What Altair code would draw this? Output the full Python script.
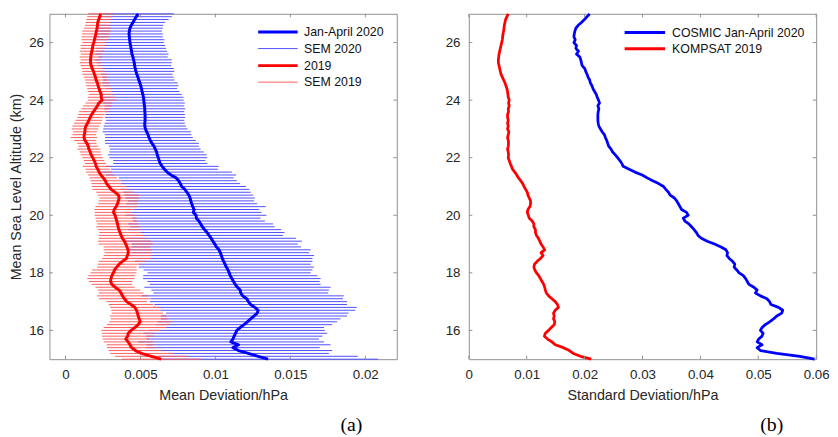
import altair as alt
import pandas as pd

# ---------------- data ----------------
altitude_km = [
    15.0, 15.1, 15.2, 15.3, 15.4, 15.5, 15.6, 15.7, 15.8, 15.9,
    16.0, 16.1, 16.2, 16.3, 16.4, 16.5, 16.6, 16.7, 16.8, 16.9,
    17.0, 17.1, 17.2, 17.3, 17.4, 17.5, 17.6, 17.7, 17.8, 17.9,
    18.0, 18.1, 18.2, 18.3, 18.4, 18.5, 18.6, 18.7, 18.8, 18.9,
    19.0, 19.1, 19.2, 19.3, 19.4, 19.5, 19.6, 19.7, 19.8, 19.9,
    20.0, 20.1, 20.2, 20.3, 20.4, 20.5, 20.6, 20.7, 20.8, 20.9,
    21.0, 21.1, 21.2, 21.3, 21.4, 21.5, 21.6, 21.7, 21.8, 21.9,
    22.0, 22.1, 22.2, 22.3, 22.4, 22.5, 22.6, 22.7, 22.8, 22.9,
    23.0, 23.1, 23.2, 23.3, 23.4, 23.5, 23.6, 23.7, 23.8, 23.9,
    24.0, 24.1, 24.2, 24.3, 24.4, 24.5, 24.6, 24.7, 24.8, 24.9,
    25.0, 25.1, 25.2, 25.3, 25.4, 25.5, 25.6, 25.7, 25.8, 25.9,
    26.0, 26.1, 26.2, 26.3, 26.4, 26.5, 26.6, 26.7, 26.8, 26.9,
    27.0,
]

mean_2020 = [
    0.01351, 0.01285, 0.01220, 0.01154, 0.01117, 0.01154, 0.01103, 0.01117, 0.01125, 0.01134,
    0.01143, 0.01165, 0.01191, 0.01213, 0.01235, 0.01257, 0.01279, 0.01285, 0.01263, 0.01235,
    0.01220, 0.01209, 0.01182, 0.01169, 0.01165, 0.01147, 0.01132, 0.01121, 0.01110, 0.01099,
    0.01092, 0.01084, 0.01073, 0.01064, 0.01055, 0.01046, 0.01040, 0.01033, 0.01024, 0.01007,
    0.00996, 0.00983, 0.00972, 0.00958, 0.00945, 0.00928, 0.00913, 0.00902, 0.00890, 0.00873,
    0.00871, 0.00853, 0.00858, 0.00849, 0.00842, 0.00836, 0.00831, 0.00823, 0.00810, 0.00796,
    0.00775, 0.00766, 0.00755, 0.00738, 0.00704, 0.00678, 0.00660, 0.00645, 0.00632, 0.00625,
    0.00619, 0.00612, 0.00608, 0.00599, 0.00590, 0.00577, 0.00566, 0.00557, 0.00551, 0.00542,
    0.00533, 0.00529, 0.00529, 0.00531, 0.00531, 0.00531, 0.00529, 0.00529, 0.00527, 0.00524,
    0.00522, 0.00520, 0.00516, 0.00511, 0.00507, 0.00502, 0.00496, 0.00489, 0.00483, 0.00476,
    0.00470, 0.00465, 0.00461, 0.00459, 0.00454, 0.00450, 0.00443, 0.00441, 0.00437, 0.00434,
    0.00430, 0.00428, 0.00426, 0.00424, 0.00426, 0.00430, 0.00439, 0.00450, 0.00461, 0.00472,
    0.00485,
]

sem_2020 = [
    0.00735, 0.00665, 0.00537, 0.00625, 0.00579, 0.00614, 0.00621, 0.00574, 0.00588, 0.00612,
    0.00587, 0.00559, 0.00588, 0.00599, 0.00599, 0.00621, 0.00609, 0.00647, 0.00680, 0.00643,
    0.00658, 0.00642, 0.00674, 0.00583, 0.00592, 0.00621, 0.00570, 0.00574, 0.00592, 0.00581,
    0.00544, 0.00563, 0.00585, 0.00572, 0.00592, 0.00601, 0.00618, 0.00592, 0.00612, 0.00564,
    0.00553, 0.00594, 0.00565, 0.00492, 0.00516, 0.00511, 0.00482, 0.00482, 0.00440, 0.00428,
    0.00469, 0.00454, 0.00434, 0.00487, 0.00437, 0.00421, 0.00432, 0.00429, 0.00425, 0.00430,
    0.00429, 0.00399, 0.00388, 0.00383, 0.00434, 0.00432, 0.00356, 0.00377, 0.00313, 0.00307,
    0.00326, 0.00329, 0.00315, 0.00303, 0.00300, 0.00313, 0.00303, 0.00292, 0.00289, 0.00294,
    0.00281, 0.00274, 0.00267, 0.00261, 0.00268, 0.00265, 0.00263, 0.00270, 0.00265, 0.00272,
    0.00266, 0.00267, 0.00260, 0.00249, 0.00237, 0.00251, 0.00252, 0.00237, 0.00239, 0.00239,
    0.00256, 0.00257, 0.00243, 0.00250, 0.00255, 0.00232, 0.00244, 0.00237, 0.00234, 0.00231,
    0.00226, 0.00232, 0.00223, 0.00225, 0.00217, 0.00219, 0.00213, 0.00215, 0.00226, 0.00237,
    0.00237,
]

mean_2019 = [
    0.00638, 0.00573, 0.00507, 0.00467, 0.00441, 0.00430, 0.00419, 0.00402, 0.00415, 0.00419,
    0.00437, 0.00463, 0.00485, 0.00498, 0.00492, 0.00485, 0.00480, 0.00474, 0.00463, 0.00437,
    0.00408, 0.00393, 0.00380, 0.00371, 0.00358, 0.00331, 0.00309, 0.00301, 0.00303, 0.00309,
    0.00320, 0.00327, 0.00342, 0.00358, 0.00380, 0.00406, 0.00413, 0.00419, 0.00417, 0.00410,
    0.00402, 0.00393, 0.00380, 0.00371, 0.00364, 0.00356, 0.00351, 0.00347, 0.00342, 0.00336,
    0.00331, 0.00320, 0.00325, 0.00338, 0.00347, 0.00353, 0.00358, 0.00353, 0.00331, 0.00305,
    0.00290, 0.00274, 0.00266, 0.00252, 0.00237, 0.00224, 0.00215, 0.00204, 0.00200, 0.00191,
    0.00182, 0.00171, 0.00165, 0.00156, 0.00152, 0.00143, 0.00130, 0.00123, 0.00125, 0.00130,
    0.00130, 0.00136, 0.00147, 0.00156, 0.00165, 0.00174, 0.00187, 0.00200, 0.00213, 0.00222,
    0.00245, 0.00238, 0.00239, 0.00230, 0.00224, 0.00217, 0.00213, 0.00204, 0.00200, 0.00193,
    0.00187, 0.00178, 0.00171, 0.00167, 0.00167, 0.00169, 0.00171, 0.00176, 0.00180, 0.00182,
    0.00189, 0.00193, 0.00198, 0.00202, 0.00206, 0.00211, 0.00213, 0.00215, 0.00222, 0.00228,
    0.00235,
]

sem_2019 = [
    0.00263, 0.00242, 0.00208, 0.00179, 0.00164, 0.00155, 0.00164, 0.00154, 0.00171, 0.00175,
    0.00198, 0.00208, 0.00208, 0.00206, 0.00190, 0.00188, 0.00171, 0.00169, 0.00164, 0.00149,
    0.00135, 0.00171, 0.00169, 0.00149, 0.00141, 0.00131, 0.00135, 0.00145, 0.00158, 0.00157,
    0.00153, 0.00149, 0.00131, 0.00141, 0.00158, 0.00162, 0.00158, 0.00158, 0.00162, 0.00155,
    0.00180, 0.00176, 0.00158, 0.00149, 0.00138, 0.00139, 0.00145, 0.00136, 0.00138, 0.00136,
    0.00136, 0.00125, 0.00132, 0.00138, 0.00130, 0.00131, 0.00132, 0.00137, 0.00126, 0.00125,
    0.00115, 0.00101, 0.00099, 0.00092, 0.00086, 0.00086, 0.00081, 0.00088, 0.00070, 0.00068,
    0.00070, 0.00070, 0.00070, 0.00077, 0.00066, 0.00064, 0.00072, 0.00088, 0.00079, 0.00079,
    0.00088, 0.00090, 0.00090, 0.00088, 0.00086, 0.00088, 0.00096, 0.00092, 0.00096, 0.00088,
    0.00094, 0.00088, 0.00083, 0.00079, 0.00079, 0.00079, 0.00079, 0.00075, 0.00077, 0.00081,
    0.00075, 0.00070, 0.00070, 0.00072, 0.00066, 0.00075, 0.00070, 0.00081, 0.00079, 0.00081,
    0.00077, 0.00086, 0.00090, 0.00090, 0.00094, 0.00088, 0.00083, 0.00081, 0.00083, 0.00083,
    0.00083,
]

std_cosmic_2020 = [
    0.05972, 0.05717, 0.05320, 0.05037, 0.04980, 0.05065, 0.04980, 0.05008, 0.05065, 0.05082,
    0.05037, 0.05065, 0.05122, 0.05195, 0.05263, 0.05320, 0.05405, 0.05422, 0.05349, 0.05218,
    0.05195, 0.05150, 0.05037, 0.04951, 0.04980, 0.04923, 0.04838, 0.04810, 0.04781, 0.04742,
    0.04668, 0.04628, 0.04583, 0.04594, 0.04555, 0.04498, 0.04458, 0.04469, 0.04441, 0.04356,
    0.04243, 0.04118, 0.04016, 0.03959, 0.03931, 0.03891, 0.03846, 0.03800, 0.03732, 0.03704,
    0.03789, 0.03760, 0.03675, 0.03647, 0.03619, 0.03590, 0.03551, 0.03477, 0.03448, 0.03403,
    0.03363, 0.03278, 0.03176, 0.03080, 0.02995, 0.02870, 0.02768, 0.02666, 0.02643, 0.02609,
    0.02569, 0.02530, 0.02484, 0.02456, 0.02416, 0.02399, 0.02382, 0.02359, 0.02342, 0.02303,
    0.02274, 0.02246, 0.02235, 0.02229, 0.02229, 0.02229, 0.02235, 0.02246, 0.02229, 0.02257,
    0.02240, 0.02218, 0.02201, 0.02172, 0.02144, 0.02127, 0.02099, 0.02087, 0.02059, 0.02042,
    0.02019, 0.02002, 0.01957, 0.01945, 0.01934, 0.01917, 0.01860, 0.01894, 0.01849, 0.01860,
    0.01815, 0.01838, 0.01815, 0.01821, 0.01832, 0.01849, 0.01889, 0.01945, 0.01997, 0.02042,
    0.02087,
]

std_kompsat_2019 = [
    0.02116, 0.01928, 0.01804, 0.01736, 0.01633, 0.01492, 0.01435, 0.01361, 0.01305, 0.01322,
    0.01378, 0.01424, 0.01475, 0.01486, 0.01463, 0.01474, 0.01463, 0.01492, 0.01548, 0.01531,
    0.01492, 0.01435, 0.01378, 0.01339, 0.01322, 0.01310, 0.01293, 0.01265, 0.01236, 0.01208,
    0.01168, 0.01140, 0.01123, 0.01134, 0.01180, 0.01236, 0.01282, 0.01248, 0.01310, 0.01282,
    0.01248, 0.01225, 0.01202, 0.01168, 0.01151, 0.01151, 0.01123, 0.01123, 0.01095, 0.01044,
    0.01027, 0.01010, 0.01021, 0.01055, 0.01066, 0.01066, 0.01044, 0.01021, 0.01010, 0.00981,
    0.00953, 0.00930, 0.00896, 0.00856, 0.00828, 0.00794, 0.00754, 0.00737, 0.00715, 0.00698,
    0.00681, 0.00686, 0.00681, 0.00669, 0.00681, 0.00686, 0.00681, 0.00669, 0.00681, 0.00692,
    0.00669, 0.00681, 0.00669, 0.00681, 0.00669, 0.00669, 0.00686, 0.00681, 0.00698, 0.00686,
    0.00698, 0.00681, 0.00675, 0.00669, 0.00658, 0.00641, 0.00624, 0.00601, 0.00579, 0.00556,
    0.00544, 0.00533, 0.00522, 0.00510, 0.00510, 0.00516, 0.00522, 0.00533, 0.00544, 0.00556,
    0.00567, 0.00579, 0.00584, 0.00590, 0.00601, 0.00607, 0.00613, 0.00624, 0.00635, 0.00658,
    0.00681,
]

a_series = ["Jan-April 2020", "SEM 2020", "2019", "SEM 2019"]
a_colors = ["#0000ff", "#4d4dff", "#ff0000", "#ff5c5c"]
a_widths = [3, 1, 3, 1]
b_series = ["COSMIC Jan-April 2020", "KOMPSAT 2019"]
b_colors = ["#0000ff", "#ff0000"]

a_x_ticks = [0, 0.005, 0.01, 0.015, 0.02]
b_x_ticks = [0, 0.01, 0.02, 0.03, 0.04, 0.05, 0.06]
y_ticks = [16, 18, 20, 22, 24, 26]
panel_labels = ["(a)", "(b)"]

# ---------------- tables ----------------
df_a = pd.concat([
    pd.DataFrame({"alt": altitude_km, "mean": mean_2020, "sem": sem_2020,
                  "series": "SEM 2020", "kind": "sem"}),
    pd.DataFrame({"alt": altitude_km, "mean": mean_2019, "sem": sem_2019,
                  "series": "SEM 2019", "kind": "sem"}),
    pd.DataFrame({"alt": altitude_km, "mean": mean_2020, "sem": sem_2020,
                  "series": "Jan-April 2020", "kind": "mean"}),
    pd.DataFrame({"alt": altitude_km, "mean": mean_2019, "sem": sem_2019,
                  "series": "2019", "kind": "mean"}),
], ignore_index=True)
df_a["lo"] = df_a["mean"] - df_a["sem"]
df_a["hi"] = df_a["mean"] + df_a["sem"]

df_b = pd.concat([
    pd.DataFrame({"alt": altitude_km, "std": std_cosmic_2020, "series": b_series[0]}),
    pd.DataFrame({"alt": altitude_km, "std": std_kompsat_2019, "series": b_series[1]}),
], ignore_index=True)

# ---------------- styling ----------------
FONT = "Liberation Sans"
GRAY = "#8f8f8f"
TXT = "#262626"
W, H = 352, 350
TK = 3.5
# legend line symbol: unit path scaled by sqrt(size)/2 = 5 px -> 40 px long line
LEG_PATH = "M-1,0H7"

a_xdom = [-0.00107, 0.0221]
b_xdom = [0, 0.06]
ydom = [15, 27]


def x_axis(ticks, fmt, title):
    return alt.Axis(values=ticks, format=fmt, title=title, ticks=False, domain=False,
                    grid=False, labelFont=FONT, labelFontSize=13.5, labelColor=TXT,
                    labelPadding=9, labelFlush=False, labelOverlap=False,
                    titleFont=FONT, titleFontSize=14.5, titleFontWeight="normal",
                    titleColor=TXT, titlePadding=7)


def y_axis(title, pad):
    kw = dict(values=y_ticks, format="d", ticks=False, domain=False, grid=False,
              labelFont=FONT, labelFontSize=13.5, labelColor=TXT, labelPadding=pad,
              labelFlush=False, labelOverlap=False)
    if title:
        kw.update(title=title, titleFont=FONT, titleFontSize=14.5,
                  titleFontWeight="normal", titleColor=TXT, titlePadding=5)
    else:
        kw.update(title=None)
    return alt.Axis(**kw)


def X(field, dom, ax):
    return alt.X(f"{field}:Q", scale=alt.Scale(domain=dom, nice=False, zero=False), axis=ax)


def Y(field, ax):
    return alt.Y(f"{field}:Q", scale=alt.Scale(domain=ydom, nice=False, zero=False), axis=ax)


def tick_layers(xticks, xdom, xax, yax):
    xt = alt.Chart(pd.DataFrame({"tick": xticks}))
    yt = alt.Chart(pd.DataFrame({"tick": y_ticks}))
    rule = dict(color=GRAY, strokeWidth=1)
    return [
        xt.mark_rule(**rule).encode(x=X("tick", xdom, xax), y=alt.value(H), y2=alt.value(H - TK)),
        xt.mark_rule(**rule).encode(x=X("tick", xdom, xax), y=alt.value(0), y2=alt.value(TK)),
        yt.mark_rule(**rule).encode(y=Y("tick", yax), x=alt.value(0), x2=alt.value(TK)),
        yt.mark_rule(**rule).encode(y=Y("tick", yax), x=alt.value(W), x2=alt.value(W - TK)),
    ]


# ---------------- panel (a) ----------------
ax_a_x = x_axis(a_x_ticks, ".3~f", "Mean Deviation/hPa")
ax_a_y = y_axis("Mean Sea Level Altitude (km)", 6)

legend_a = alt.Legend(orient="none", legendX=210, legendY=12, title=None,
                      symbolType=LEG_PATH, symbolSize=100, labelFont=FONT,
                      labelFontSize=12.5, labelColor="#111111", labelOffset=35,
                      rowPadding=4, padding=0)
color_a = alt.Color("series:N", scale=alt.Scale(type="ordinal", domain=a_series, range=a_colors),
                    legend=legend_a)
width_a = alt.StrokeWidth("series:N",
                          scale=alt.Scale(type="ordinal", domain=a_series, range=a_widths),
                          legend=legend_a)

base_a = alt.Chart(df_a)
bars_a = base_a.transform_filter(alt.datum.kind == "sem").mark_rule().encode(
    y=Y("alt", ax_a_y), x=X("lo", a_xdom, ax_a_x), x2="hi:Q",
    color=color_a, strokeWidth=width_a)
lines_a = base_a.transform_filter(alt.datum.kind == "mean").mark_line(strokeJoin="round").encode(
    y=Y("alt", ax_a_y), x=X("mean", a_xdom, ax_a_x), order="alt:Q",
    color=color_a, strokeWidth=width_a)
label_a = alt.Chart(pd.DataFrame({"t": [panel_labels[0]]})).mark_text(
    font="Liberation Serif", fontSize=20, color="black").encode(
    text="t:N", x=alt.value(306), y=alt.value(417))

panel_a = alt.layer(bars_a, lines_a, *tick_layers(a_x_ticks, a_xdom, ax_a_x, ax_a_y),
                    label_a).properties(width=W, height=H)

# ---------------- panel (b) ----------------
ax_b_x = x_axis(b_x_ticks, ".2~f", "Standard Deviation/hPa")
ax_b_y = y_axis(None, 9)
legend_b = alt.Legend(orient="none", legendX=156, legendY=12, title=None,
                      symbolType=LEG_PATH, symbolSize=105, symbolStrokeWidth=3,
                      labelFont=FONT, labelFontSize=12.5, labelColor="#111111",
                      labelOffset=36, rowPadding=2.5, padding=0)
lines_b = alt.Chart(df_b).mark_line(strokeWidth=2.8, strokeJoin="round").encode(
    y=Y("alt", ax_b_y), x=X("std", b_xdom, ax_b_x), order="alt:Q",
    color=alt.Color("series:N", scale=alt.Scale(domain=b_series, range=b_colors),
                    legend=legend_b))
label_b = alt.Chart(pd.DataFrame({"t": [panel_labels[1]]})).mark_text(
    font="Liberation Serif", fontSize=20, color="black").encode(
    text="t:N", x=alt.value(307), y=alt.value(417))

panel_b = alt.layer(lines_b, *tick_layers(b_x_ticks, b_xdom, ax_b_x, ax_b_y),
                    label_b).properties(width=W, height=H)

chart = alt.hconcat(panel_a, panel_b, spacing=47).resolve_scale(
    color="independent", strokeWidth="independent").resolve_legend(
    color="independent", strokeWidth="independent").properties(
    padding={"left": 0, "top": 1, "right": 0, "bottom": 0},
    background="white").configure_view(stroke=GRAY, strokeWidth=1)

chart.save("out.html", embed_options={"renderer": "svg", "actions": False})
